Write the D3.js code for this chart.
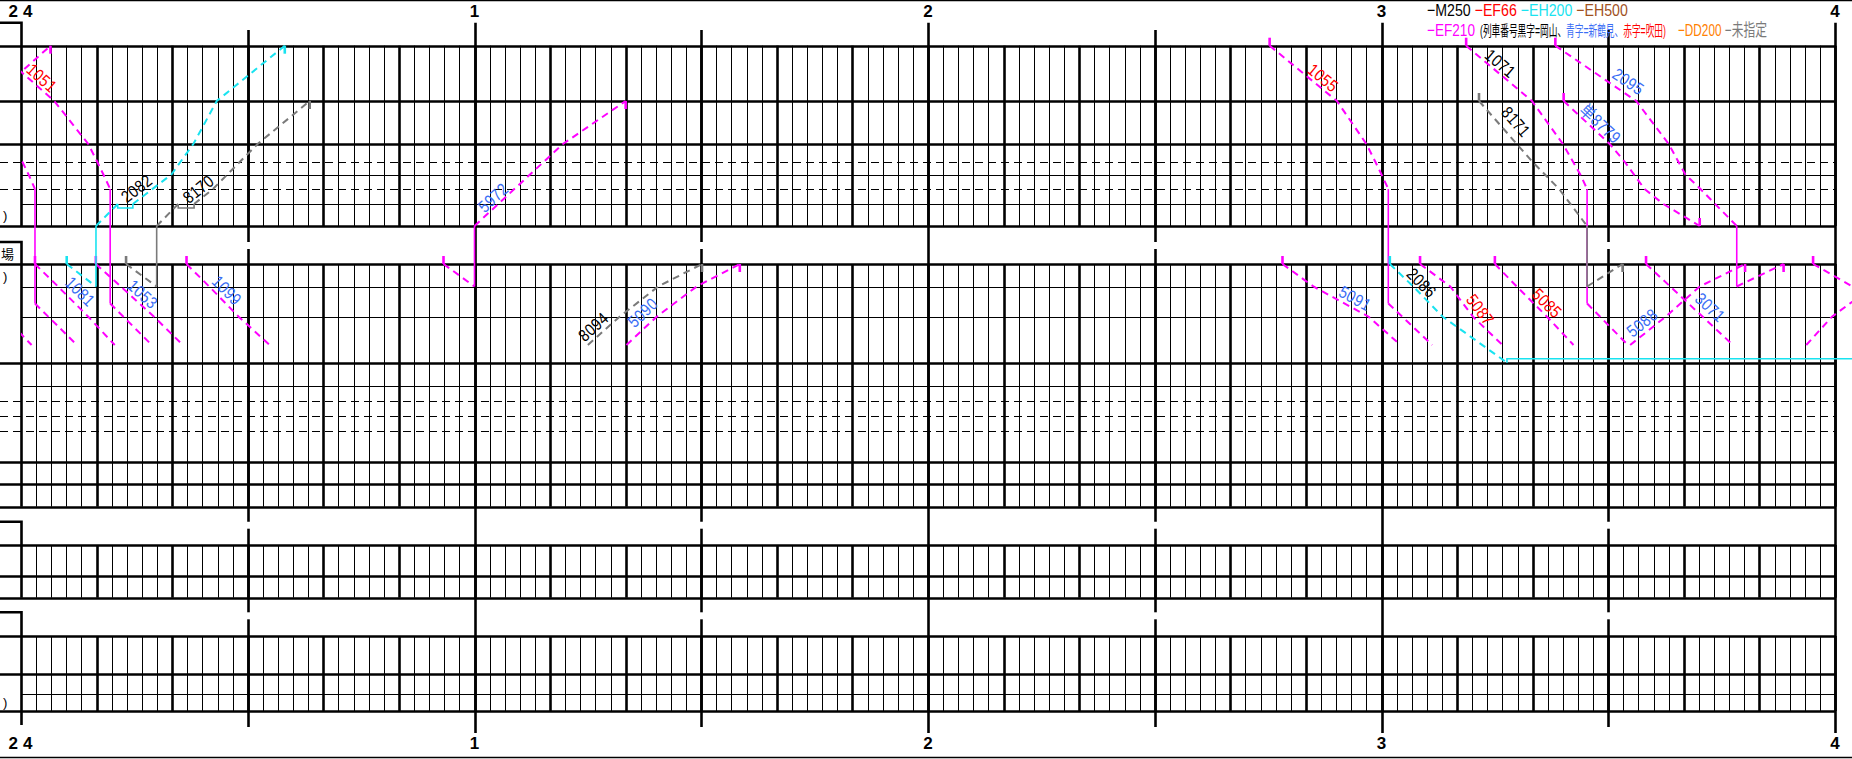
<!DOCTYPE html>
<html>
<head>
<meta charset="utf-8">
<script src="https://cdn.jsdelivr.net/npm/d3@7"></script>
<style>
  body { margin: 0; background: #fff; }
  svg { display: block; }
</style>
</head>
<body>
<svg width="1852" height="759"></svg>
<script>
// ---- data ----
const hourLabels = ['24', '1', '2', '3', '4'];

// station rows, top to bottom (names are cut off in the source)
const stationIds = ['S0', 'S1', 'S2', 'S3', 'S4', 'S5', 'S6', 'S7',
  'S8', 'S9', 'S10', 'S11', 'S12', 'S13', 'S14', 'S15', 'S16', 'S17', 'S18',
  'S19', 'S20', 'S21', 'S22', 'S23', 'S24', 'S25'];
// rows that trains use but that have no ruled line
const hiddenIds = ['H1', 'H2'];

const locos = ['M250', 'EF66', 'EH200', 'EH500', 'EF210', 'DD200', '未指定'];
const depots = ['岡山', '新鶴見', '吹田'];
const depotWords = ['黒字', '青字', '赤字'];

// [minutes after 0:00, station]
const trains = [
  { no: '',     loco: 'EF210', stops: [[-4.3, 'S1'], [3.9, 'S0']] },
  { no: '1051', loco: 'EF210', stops: [[-3.9, 'S0'], [4.4, 'S1'], [8.9, 'S2'], [10.1, 'S3'], [10.9, 'S4'], [11.8, 'S5'], [11.8, 'H1'], [17.3, 'H2']] },
  { no: '',     loco: 'EF210', stops: [[-2.0, 'S2'], [0.2, 'S3'], [1.0, 'S4'], [1.85, 'S5'], [1.85, 'H1'], [7.4, 'H2']] },
  { no: '',     loco: 'EF210', stops: [[-9.2, 'S8'], [-6.2, 'S9'], [-2.2, 'S10'], [1.4, 'H2']] },
  { no: '1081', loco: 'EF210', stops: [[1.85, 'S8'], [4.9, 'S9'], [8.9, 'S10'], [12.4, 'H2']] },
  { no: '1053', loco: 'EF210', stops: [[9.9, 'S8'], [13.2, 'S9'], [17.6, 'S10'], [21.4, 'H2']] },
  { no: '1099', loco: 'EF210', stops: [[21.9, 'S8'], [24.9, 'S9'], [28.8, 'S10'], [32.9, 'H2']] },
  { no: '2082', loco: 'EH200', stops: [[6.05, 'S8'], [9.92, 'S9'], [9.92, 'S7'], [12.8, 'S6'], [14.8, 'S6'], [19.9, 'S4'], [22.8, 'S2'], [25.9, 'S1'], [34.9, 'S0']] },
  { no: '8170', loco: '未指定', stops: [[13.9, 'S8'], [17.95, 'S9'], [17.95, 'S7'], [20.8, 'S6'], [22.9, 'S6'], [25.4, 'S5'], [31.3, 'S2'], [38.2, 'S1']] },
  { no: '5972', loco: 'EF210', stops: [[55.9, 'S8'], [60.0, 'S9'], [60.0, 'S7'], [71.7, 'S2'], [80.0, 'S1']] },
  { no: '8094', loco: '未指定', stops: [[75.0, 'H2'], [79.2, 'S10'], [84.3, 'S9'], [90.1, 'S8']] },
  { no: '5090', loco: 'EF210', stops: [[80.1, 'H2'], [84.1, 'S10'], [89.4, 'S9'], [95.1, 'S8']] },
  { no: '1055', loco: 'EF210', stops: [[165.2, 'S0'], [174.1, 'S1'], [178.0, 'S2'], [179.2, 'S3'], [180.0, 'S4'], [180.9, 'S5'], [180.9, 'H1'], [186.7, 'H2']] },
  { no: '5091', loco: 'EF210', stops: [[166.9, 'S8'], [171.0, 'S9'], [178.3, 'S10'], [182.5, 'H2']] },
  { no: '2086', loco: 'EH200', stops: [[181.1, 'S8'], [184.2, 'S9'], [188.1, 'S10'], [196.6, 'S11'], [245, 'S11']] },
  { no: '5087', loco: 'EF210', stops: [[185.1, 'S8'], [189.1, 'S9'], [192.1, 'S10'], [196.0, 'H2']] },
  { no: '5085', loco: 'EF210', stops: [[195.0, 'S8'], [197.9, 'S9'], [201.9, 'S10'], [205.4, 'H2']] },
  { no: '1071', loco: 'EF210', stops: [[191.2, 'S0'], [199.9, 'S1'], [204.0, 'S2'], [206.3, 'S4'], [207.2, 'S5'], [207.2, 'H1'], [212.6, 'H2']] },
  { no: '8171', loco: '未指定', stops: [[192.9, 'S1'], [200.0, 'S3'], [203.5, 'S5'], [207.2, 'S7'], [207.2, 'S9'], [211.9, 'S8']] },
  { no: '単8779', loco: 'EF210', stops: [[204.1, 'S1'], [210.2, 'S2'], [212.2, 'S3'], [214.8, 'S5'], [217.3, 'S6'], [222.1, 'S7']] },
  { no: '2095', loco: 'EF210', stops: [[203.0, 'S0'], [213.7, 'S1'], [218.0, 'S2'], [220.2, 'S4'], [222.2, 'S5'], [227.0, 'S7'], [227.0, 'S9'], [233.2, 'S8']] },
  { no: '3071', loco: 'EF210', stops: [[215.0, 'S8'], [218.2, 'S9'], [226.5, 'H2']] },
  { no: '5088', loco: 'EF210', stops: [[212.9, 'H2'], [217.6, 'S10'], [222.1, 'S9'], [228.1, 'S8']] },
  { no: '',     loco: 'EF210', stops: [[237.1, 'S8'], [242.3, 'S9'], [247, 'S10']] },
  { no: '',     loco: 'EF210', stops: [[236.2, 'H2'], [239.6, 'S10'], [245, 'S9']] }
];

// train number labels: train, depot, minute where the label sits
const trainLabels = [
  { no: '1051', depot: '吹田', t: 1.96, off: 9 },
  { no: '1081', depot: '新鶴見', t: 6.7, off: 12 },
  { no: '1053', depot: '新鶴見', t: 15.3, off: 9 },
  { no: '1099', depot: '新鶴見', t: 26.3, off: 10 },
  { no: '2082', depot: '岡山', t: 16.1, off: 10 },
  { no: '8170', depot: '岡山', t: 24.2, off: 9 },
  { no: '5972', depot: '新鶴見', t: 63.2, off: 8 },
  { no: '8094', depot: '岡山', t: 76.6, off: 10 },
  { no: '5090', depot: '新鶴見', t: 83.4, off: 12.5 },
  { no: '1055', depot: '吹田', t: 171.5, off: 9 },
  { no: '5091', depot: '新鶴見', t: 175.9, off: 9.5 },
  { no: '2086', depot: '岡山', t: 184.5, off: 8.5 },
  { no: '5087', depot: '吹田', t: 192.0, off: 10 },
  { no: '5085', depot: '吹田', t: 201.0, off: 9.5 },
  { no: '1071', depot: '岡山', t: 195.0, off: 8.4 },
  { no: '8171', depot: '岡山', t: 196.4, off: 14 },
  { no: '単8779', depot: '新鶴見', t: 208.2, off: 8.4 },
  { no: '2095', depot: '新鶴見', t: 211.8, off: 11.6 },
  { no: '3071', depot: '新鶴見', t: 222.4, off: 12 },
  { no: '5088', depot: '新鶴見', t: 215.3, off: 10 }
];

// ---- layout ----
const svg = d3.select('svg');
const width = +svg.attr('width');
const height = +svg.attr('height');

const stationRows = [45.7, 101, 144, 162, 174.5, 189, 204, 226,
  264, 286.5, 316.7, 362.7, 385.7, 401, 416, 431, 462, 484, 506.7,
  545, 575.5, 597.7, 636, 673.5, 694, 711];
const hiddenRows = [303.5, 345];
const rowKind = ['thick', 'thick', 'thick', 'dash', 'thin', 'dash', 'thin', 'thick',
  'thick', 'thin', 'thin', 'thick', 'thin', 'dash', 'dash', 'dash', 'thick', 'thick', 'thick',
  'thick', 'thick', 'thick', 'thick', 'thick', 'thin', 'thick'];
const sections = [['S0', 'S7'], ['S8', 'S18'], ['S19', 'S21'], ['S22', 'S25']];
const boxTops = [22.7, 242, 521.7, 612.3];

const x = d3.scaleLinear().domain([0, 240]).range([21, 1835]);
const y = d3.scaleOrdinal()
  .domain(stationIds.concat(hiddenIds))
  .range(stationRows.concat(hiddenRows));

const locoColor = d3.scaleOrdinal()
  .domain(locos)
  .range(['#000000', '#ff0000', '#19e3f0', '#a0501e', '#ff00ff', '#ff8000', '#7a7a7a']);
const depotColor = d3.scaleOrdinal()
  .domain(depots)
  .range(['#000000', '#3a6ef5', '#ff0000']);

const FONT = "'Liberation Sans','Noto Sans CJK JP',sans-serif";
const grid = svg.append('g');
const crisp = v => Math.round(v) + 0.5;

// squeeze a text horizontally so it spans w pixels
const fitText = (sel, w) => {
  const len = sel.node().getComputedTextLength();
  const x0 = +sel.attr('x');
  const y0 = +sel.attr('y');
  sel.attr('x', 0).attr('y', 0)
    .attr('transform', `translate(${x0},${y0}) scale(${w / len},1)`);
};

// frame
[0.5, 757.5].forEach(fy => {
  grid.append('line')
    .attr('x1', 0).attr('x2', width).attr('y1', fy).attr('y2', fy)
    .attr('stroke', '#000').attr('stroke-width', 1.5);
});

// 2-minute / 10-minute rules inside each block
sections.forEach(([a, b]) => {
  grid.append('g').selectAll('line')
    .data(d3.range(2, 241, 2))
    .join('line')
    .attr('x1', d => crisp(x(d)))
    .attr('x2', d => crisp(x(d)))
    .attr('y1', y(a))
    .attr('y2', y(b))
    .attr('stroke', '#000')
    .attr('stroke-width', d => d % 10 === 0 ? 2.6 : 1);
});

// station rules
grid.append('g').selectAll('line')
  .data(stationIds)
  .join('line')
  .attr('x1', (d, i) => rowKind[i] === 'thin' ? 21 : 0)
  .attr('x2', x(240))
  .attr('y1', d => crisp(y(d)))
  .attr('y2', d => crisp(y(d)))
  .attr('stroke', '#000')
  .attr('stroke-width', (d, i) => rowKind[i] === 'thick' ? 2.6 : (rowKind[i] === 'dash' ? 1.2 : 1))
  .attr('stroke-dasharray', (d, i) => rowKind[i] === 'dash' ? '8,5' : null);

// name-column boxes
sections.forEach(([a, b], i) => {
  const bottom = i === sections.length - 1 ? 725 : y(b);
  grid.append('path')
    .attr('d', `M0,${boxTops[i]}H${crisp(x(0))}V${bottom}`)
    .attr('fill', 'none')
    .attr('stroke', '#000')
    .attr('stroke-width', 2.6);
});

// half-hour and hour lines running through the gaps
d3.range(30, 241, 30).forEach(t => {
  const hour = t % 60 === 0;
  const top = hour ? 22.7 : 30;
  const bottom = hour ? 733 : 727;
  let segs = [[top, bottom]];
  if (!hour) {
    segs = [];
    let start = top;
    boxTops.slice(1).forEach(bt => { segs.push([start, bt]); start = bt + 7; });
    segs.push([start, bottom]);
  }
  segs.forEach(([s, e]) => {
    grid.append('line')
      .attr('x1', crisp(x(t))).attr('x2', crisp(x(t)))
      .attr('y1', s).attr('y2', e)
      .attr('stroke', '#000').attr('stroke-width', 2.6);
  });
});

// hour labels top and bottom
[17, 749].forEach(by => {
  grid.append('g').selectAll('text')
    .data(hourLabels)
    .join('text')
    .attr('x', (d, i) => x(i * 60) + (i === 0 ? 2 : 0))
    .attr('y', by)
    .attr('text-anchor', 'middle')
    .attr('font-family', FONT)
    .attr('font-weight', 'bold')
    .attr('font-size', 17)
    .attr('letter-spacing', (d, i) => i === 0 ? 5 : 0)
    .text(d => d);
});

// station-name fragments left in the narrow name column
const nameBits = [[')', 3, 220], ['場', 1, 259], [')', 3, 281], [')', 3, 707]];
grid.append('g').selectAll('text')
  .data(nameBits)
  .join('text')
  .attr('x', d => d[1])
  .attr('y', d => d[2])
  .attr('font-family', FONT)
  .attr('font-size', 13)
  .text(d => d[0]);

// ---- legend ----
const legend = svg.append('g').attr('font-family', FONT).attr('font-size', 17);
const row1 = legend.append('text').attr('x', 1427).attr('y', 16);
locos.slice(0, 4).forEach((l, i) => {
  row1.append('tspan').attr('fill', locoColor(l)).text((i ? ' ' : '') + '−' + l);
});
fitText(row1, 201);

const ef210 = legend.append('text').attr('x', 1427).attr('y', 36)
  .attr('fill', locoColor('EF210'))
  .text('−EF210');
fitText(ef210, 48);

const note = legend.append('text').attr('x', 1480).attr('y', 36).attr('font-size', 15);
depots.forEach((d, i) => {
  const pre = i === 0 ? '(列車番号' : '';
  const post = i === depots.length - 1 ? ')' : '、';
  note.append('tspan').attr('fill', depotColor(d)).text(pre + depotWords[i] + '=' + d + post);
});
fitText(note, 186);

const row2b = legend.append('text').attr('x', 1678).attr('y', 36);
locos.slice(5).forEach((l, i) => {
  row2b.append('tspan').attr('fill', locoColor(l)).text((i ? ' ' : '') + '−' + l);
});
fitText(row2b, 89);

// ---- trains ----
svg.append('clipPath').attr('id', 'plot')
  .append('rect').attr('x', x(0)).attr('y', 0).attr('width', width - x(0)).attr('height', height);
const tg = svg.append('g').attr('clip-path', 'url(#plot)');
const pt = s => [x(s[0]), y(s[1])];
const isHidden = id => hiddenIds.includes(id);
const line = d3.line();

trains.forEach(tr => {
  const col = locoColor(tr.loco);
  const s = tr.stops;
  const p = s.map(pt);
  let run = [];
  const flush = () => {
    if (run.length > 1) {
      tg.append('path').attr('d', line(run))
        .attr('fill', 'none').attr('stroke', col)
        .attr('stroke-width', 2).attr('stroke-dasharray', '7,5');
    }
    run = [];
  };
  for (let i = 0; i < s.length - 1; i++) {
    const [a, b] = [s[i], s[i + 1]];
    if (a[0] === b[0]) {
      flush();
      tg.append('path').attr('d', line([p[i], p[i + 1]]))
        .attr('stroke', col).attr('stroke-width', 1.6).attr('fill', 'none');
    } else if (a[1] === b[1]) {
      flush();
      const o = i > 0 && p[i - 1][1] > p[i][1] ? 4 : -4;
      const yy = p[i][1];
      tg.append('path')
        .attr('d', `M${p[i][0]},${yy}V${yy + o}H${p[i + 1][0]}V${yy}`)
        .attr('stroke', col).attr('stroke-width', 1.6).attr('fill', 'none');
    } else {
      if (!run.length) run.push(p[i]);
      run.push(p[i + 1]);
    }
  }
  flush();

  // origin / terminus ticks
  const ends = [[0, 1], [s.length - 1, s.length - 2]];
  ends.forEach(([k, j]) => {
    if (isHidden(s[k][1]) || s[k][0] < 0 || s[k][0] > 240) return;
    const dy = k === 0 ? p[1][1] - p[0][1] : p[k][1] - p[j][1];
    if (!dy) return;
    tg.append('line')
      .attr('x1', p[k][0]).attr('x2', p[k][0])
      .attr('y1', p[k][1]).attr('y2', p[k][1] - 8 * Math.sign(dy))
      .attr('stroke', col).attr('stroke-width', 2.6);
  });
});

// train numbers along the lines
const footAt = (tr, t) => {
  const s = tr.stops;
  for (let i = 0; i < s.length - 1; i++) {
    if (s[i][0] !== s[i + 1][0] && s[i][1] !== s[i + 1][1] && t >= s[i][0] && t <= s[i + 1][0]) {
      const [x0, y0] = pt(s[i]);
      const [x1, y1] = pt(s[i + 1]);
      const f = (t - s[i][0]) / (s[i + 1][0] - s[i][0]);
      return { x: x0 + f * (x1 - x0), y: y0 + f * (y1 - y0), a: Math.atan2(y1 - y0, x1 - x0) * 180 / Math.PI };
    }
  }
  return null;
};

trainLabels.forEach(lb => {
  const tr = trains.find(d => d.no === lb.no);
  const f = footAt(tr, lb.t);
  if (!f) return;
  tg.append('text')
    .attr('transform', `translate(${f.x},${f.y}) rotate(${f.a}) scale(0.85,1)`)
    .attr('y', -lb.off)
    .attr('text-anchor', 'middle')
    .attr('dominant-baseline', 'central')
    .attr('font-family', FONT)
    .attr('font-size', 17)
    .attr('letter-spacing', 0.5)
    .attr('fill', depotColor(lb.depot))
    .text(lb.no);
});
</script>
</body>
</html>
